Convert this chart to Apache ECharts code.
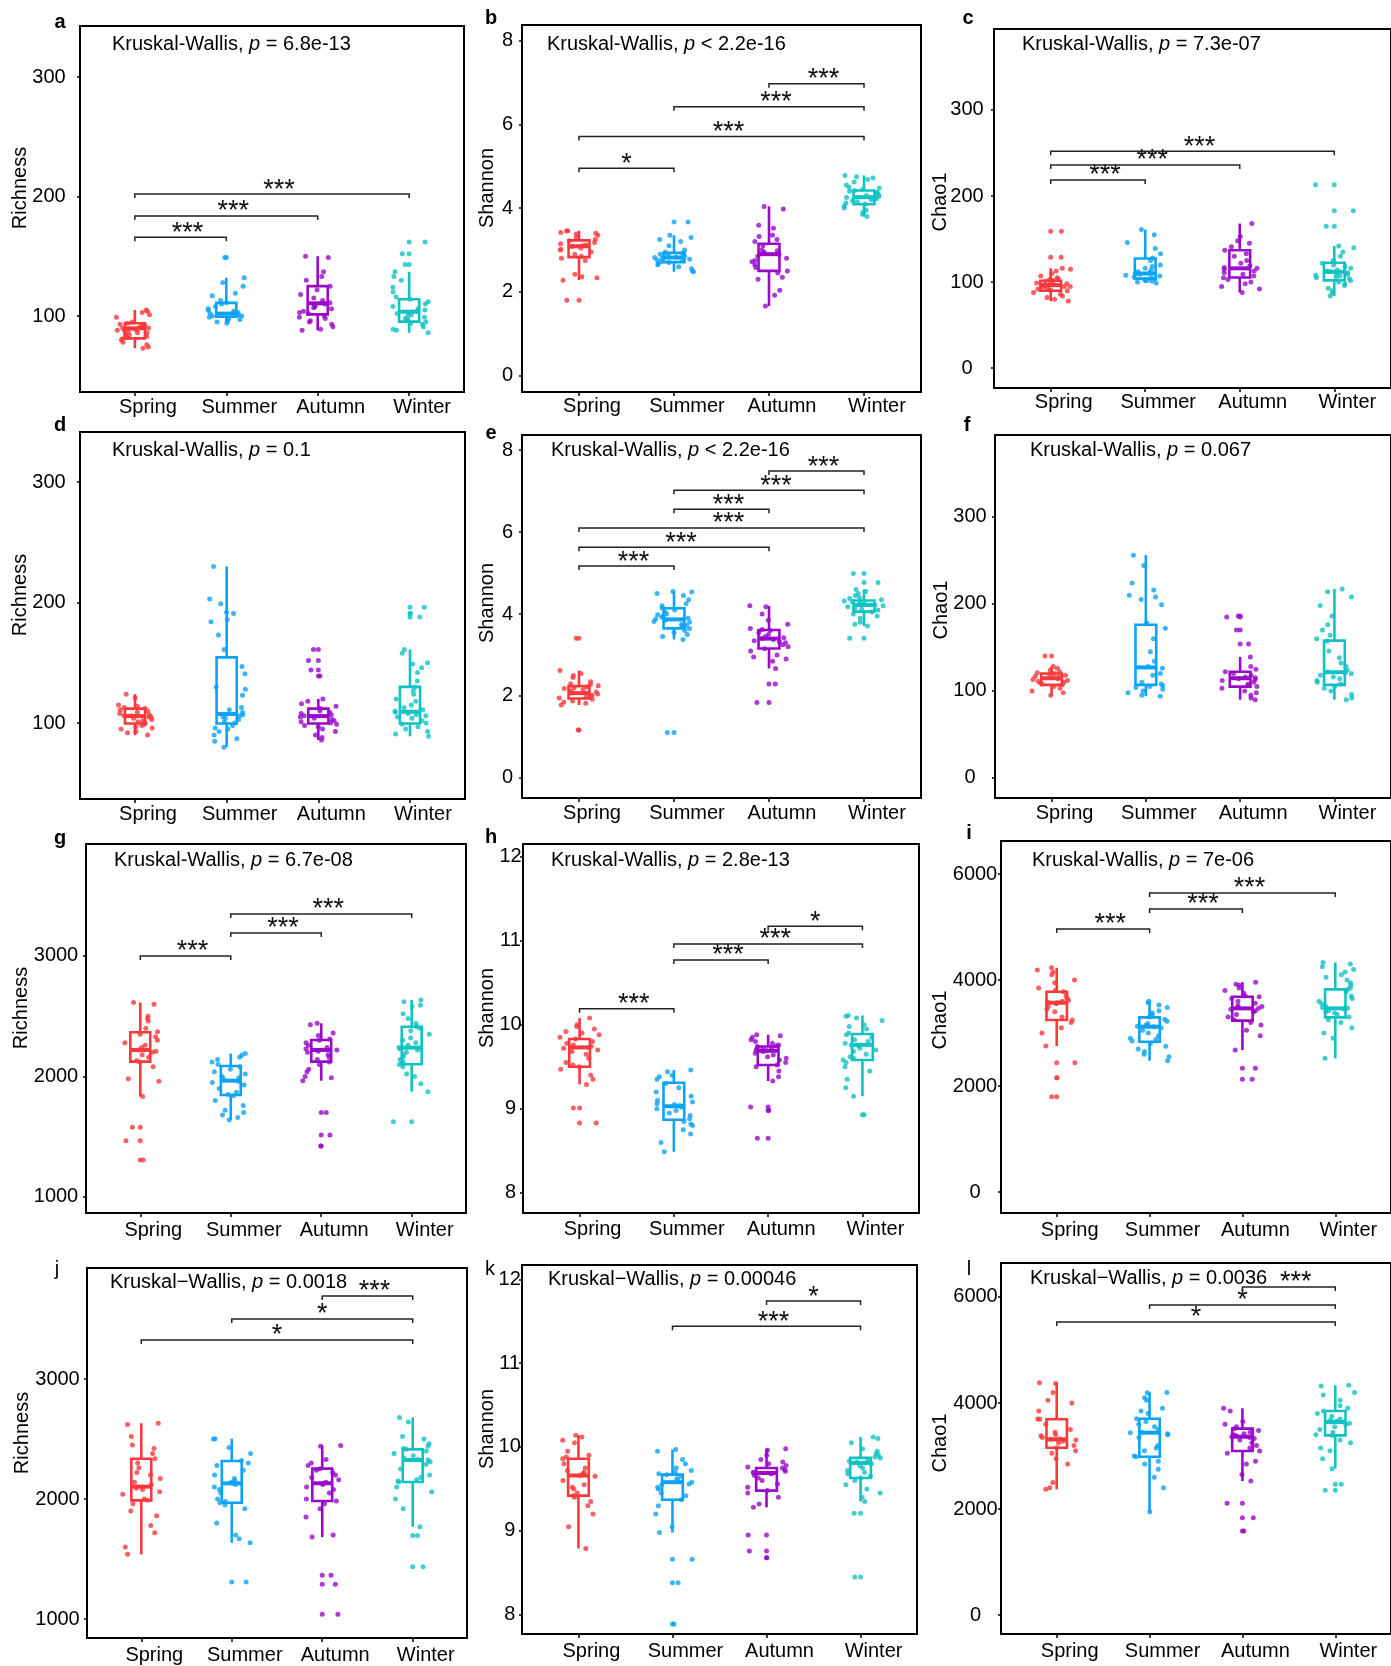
<!DOCTYPE html>
<html><head><meta charset="utf-8">
<script src="https://cdn.jsdelivr.net/npm/echarts@6/dist/echarts.min.js"></script>
<style>html,body{margin:0;padding:0;background:#fff}#c{width:1391px;height:1666px}</style>
</head><body><div id="c"></div>
<script>
// ---------- categories & colours ----------
const seasons = ['Spring', 'Summer', 'Autumn', 'Winter'];
const seasonColors = ['#F8393C', '#0DA2F7', '#9A09C9', '#12C2C2'];

// ---------- tick labels ----------
const ticksRich16S = [100, 200, 300];
const ticksShan16S = [0, 2, 4, 6, 8];
const ticksChao16S = [0, 100, 200, 300];
const ticksRichMeta = [1000, 2000, 3000];
const ticksShanMeta = [8, 9, 10, 11, 12];
const ticksChaoMeta = [0, 2000, 4000, 6000];

// ---------- Kruskal-Wallis p texts ----------
const pTexts = ['= 6.8e-13', '< 2.2e-16', '= 7.3e-07', '= 0.1', '< 2.2e-16', '= 0.067',
                '= 6.7e-08', '= 2.8e-13', '= 7e-06', '= 0.0018', '= 0.00046', '= 0.0036'];

// ---------- panel a (Richness) ----------
const aPts = [
 [105,104,103,101,99,95,94,93,92,92,91,90,90,89,89,88,88,87,86,86,85,84,83,82,81,80,78,76,74,73],
 [149,132,128,125,119,117,113,111,110,108,106,105,104,103,103,102,102,101,100,100,99,98,97,96,95,94],
 [150,149,137,133,130,125,122,118,115,113,111,110,109,108,107,106,104,103,102,100,99,98,96,95,93,91,89,88],
 [162,152,143,137,133,130,124,120,116,114,112,110,108,106,105,104,103,102,101,100,99,98,97,96,95,94,93,91,89,88,86]
];
const aBox = [[73,81.3,89.7,93.9,105],[94,99.4,102,111,132],[88,101.4,110.6,125,150],[86,95.3,103.6,114,137]];
const aSig = [[1,2,166,3],[1,3,183.7,3],[1,4,202,3]];

// ---------- panel b (Shannon) ----------
const bPts = [
 [3.46,3.45,3.42,3.40,3.38,3.35,3.30,3.25,3.22,3.18,3.15,3.12,3.10,3.08,3.05,3.02,3.0,2.95,2.9,2.85,2.8,2.75,2.42,2.36,2.34,2.28,1.80],
 [3.67,3.35,3.30,3.25,3.20,3.10,3.0,2.95,2.92,2.9,2.88,2.85,2.83,2.82,2.8,2.78,2.76,2.75,2.72,2.7,2.68,2.65,2.6,2.55,2.5,2.48],
 [4.04,3.98,3.59,3.52,3.35,3.32,3.25,3.2,3.1,3.0,2.98,2.95,2.9,2.85,2.8,2.75,2.72,2.65,2.58,2.5,2.45,2.35,2.3,2.04,1.92,1.66],
 [4.78,4.75,4.72,4.68,4.62,4.55,4.5,4.48,4.45,4.42,4.4,4.38,4.35,4.32,4.3,4.28,4.26,4.25,4.22,4.2,4.18,4.15,4.12,4.1,4.05,4.0,3.95,3.9,3.85,3.8]
];
const bBox = [[2.28,2.83,3.09,3.23,3.46],[2.48,2.71,2.82,2.93,3.35],[1.66,2.5,2.9,3.15,4.04],[3.8,4.09,4.26,4.42,4.78]];
const bSig = [[1,2,4.95,1],[1,4,5.71,3],[2,4,6.42,3],[3,4,6.97,3]];

// ---------- panel c (Chao1) ----------
const cPts = [
 [159,129,116,115,113,110,107,105,104,103,102,101,100,99,98,97,96,95,95,94,93,92,91,90,88,86,84,82,80,78],
 [161,155,146,139,133,128,125,120,118,116,114,112,111,110,109,108,107,106,105,104,103,102,101,100,99],
 [168,153,148,145,141,137,133,130,125,122,119,117,116,115,113,111,109,107,105,103,100,98,95,92,88],
 [213,183,165,142,140,135,130,125,122,120,118,116,114,113,112,111,110,109,108,107,106,105,104,102,100,98,96,93,90,87,84]
];
const cBox = [[78,90,96.5,101.6,116],[99,104,110,127.5,161],[88,105.4,116,137,168],[84,102,112,122.5,142]];
const cSig = [[1,2,218.6,3],[1,3,236,3],[1,4,252,3]];

// ---------- panel d (Richness) ----------
const dPts = [
 [124,121,115,114,113,112,111,110,109,108,107,106,106,105,105,104,103,102,101,100,100,99,98,97,96,95,93,92,90],
 [230,203,199,192,191,186,184,173,161,147,141,130,128,123,113,111,109,107,106,105,104,103,101,100,98,96,95,93,90,87,85,80],
 [161,152,144,139,120,118,116,114,112,110,109,108,107,106,105,104,103,102,101,100,99,98,97,95,93,90,88,86],
 [196,191,188,161,158,150,149,146,142,135,130,127,124,120,118,115,113,111,110,109,108,107,106,105,104,102,100,99,97,95,93,91,89]
];
const dBox = [[90,99.7,105.8,112,124],[80,99.7,107.5,154.5,230],[86,99.7,105.8,112,120],[89,99.7,109.4,130,161]];
const dSig = [];

// ---------- panel e (Shannon) ----------
const ePts = [
 [3.41,2.62,2.55,2.5,2.45,2.35,2.3,2.28,2.25,2.22,2.2,2.18,2.15,2.12,2.1,2.08,2.07,2.05,2.02,2.0,1.98,1.95,1.92,1.88,1.85,1.82,1.78,1.17],
 [4.55,4.54,4.5,4.45,4.35,4.25,4.2,4.15,4.1,4.05,4.0,3.98,3.95,3.92,3.9,3.88,3.85,3.82,3.8,3.75,3.72,3.7,3.65,3.6,3.55,3.5,3.45,3.38,1.11],
 [4.2,4.18,4.0,3.85,3.75,3.65,3.62,3.6,3.55,3.5,3.45,3.42,3.4,3.38,3.35,3.32,3.3,3.25,3.2,3.15,3.1,3.0,2.95,2.9,2.85,2.67,2.29,1.84],
 [4.99,4.77,4.6,4.55,4.5,4.45,4.4,4.38,4.35,4.32,4.3,4.28,4.25,4.23,4.22,4.2,4.18,4.15,4.12,4.1,4.05,4.0,3.95,3.9,3.8,3.75,3.71,3.41]
];
const eBox = [[1.78,1.94,2.07,2.24,2.62],[3.38,3.65,3.87,4.14,4.55],[2.67,3.16,3.4,3.61,4.2],[3.71,4.06,4.22,4.33,4.6]];
const eSig = [[1,2,5.17,3],[1,3,5.63,3],[1,4,6.10,3],[2,3,6.56,3],[2,4,7.02,3],[3,4,7.49,3]];

// ---------- panel f (Chao1) ----------
const fPts = [
 [140,128,126,124,122,121,120,119,118,117,116,115,114,113,112,111,110,109,108,107,105,103,100,98,95],
 [256,244,224,216,210,208,205,199,178,172,160,145,134,128,126,120,118,110,108,106,105,104,102,100,98,95,94],
 [186,185,170,154,139,128,125,122,120,118,116,115,114,113,112,110,108,106,105,103,100,98,95,92,90],
 [217,214,208,198,186,176,170,164,160,157,146,138,132,128,124,122,121,120,118,116,114,112,110,108,105,103,100,96,92,90]
];
const fBox = [[95,107,114.6,120,128],[94,107,127,176,256],[90,105,114.6,122,139],[90,107,121.5,157.8,217]];
const fSig = [];

// ---------- panel g (Richness) ----------
const gPts = [
 [2613,2600,2500,2480,2460,2400,2370,2350,2330,2300,2280,2260,2240,2220,2210,2200,2180,2160,2130,2120,2080,1980,1960,1833,1578,1467,1307],
 [2190,2178,2160,2140,2120,2100,2080,2060,2040,2020,2000,1990,1980,1970,1960,1950,1930,1900,1870,1850,1840,1800,1760,1720,1700,1680,1660,1640],
 [2441,2430,2360,2340,2310,2300,2280,2260,2240,2230,2220,2210,2200,2180,2160,2140,2120,2100,2060,2040,2000,1990,1965,1700,1515,1423],
 [2635,2620,2590,2580,2520,2480,2440,2413,2400,2380,2350,2320,2300,2280,2260,2240,2230,2220,2200,2180,2160,2140,2120,2100,2080,2020,2000,1940,1874,1625]
];
const gBox = [[1833,2123,2220,2367,2613],[1640,1846,1965,2087,2190],[1965,2123,2220,2303,2441],[1874,2101,2239,2413,2635]];
const gSig = [[1,2,3000,3],[2,3,3191,3],[2,4,3348,3]];

// ---------- panel h (Shannon) ----------
const hPts = [
 [10.08,10.0,9.98,9.95,9.92,9.9,9.88,9.85,9.83,9.8,9.78,9.76,9.74,9.73,9.72,9.7,9.68,9.65,9.6,9.55,9.52,9.5,9.47,9.4,9.35,9.29,9.01,8.83],
 [9.46,9.44,9.4,9.38,9.35,9.3,9.25,9.2,9.15,9.1,9.08,9.06,9.05,9.04,9.03,9.02,9.0,8.98,8.95,8.92,8.88,8.85,8.82,8.8,8.75,8.7,8.6,8.49],
 [9.88,9.87,9.85,9.82,9.8,9.78,9.76,9.75,9.74,9.73,9.72,9.71,9.7,9.69,9.68,9.66,9.64,9.62,9.6,9.58,9.55,9.52,9.5,9.45,9.38,9.33,9.02,8.98,8.65],
 [10.11,10.1,10.08,10.05,10.0,9.98,9.95,9.9,9.88,9.85,9.82,9.8,9.78,9.76,9.75,9.72,9.7,9.68,9.65,9.62,9.6,9.58,9.55,9.5,9.45,9.35,9.25,9.15,8.93]
];
const hBox = [[9.29,9.50,9.73,9.83,10.08],[8.49,8.87,9.03,9.31,9.46],[9.33,9.52,9.69,9.74,9.88],[9.15,9.58,9.76,9.89,10.11]];
const hSig = [[1,2,10.19,3],[2,3,10.77,3],[2,4,10.96,3],[3,4,11.17,1]];

// ---------- panel i (Chao1) ----------
const iPts = [
 [4230,4189,4150,4100,4000,3950,3850,3800,3780,3700,3650,3620,3600,3580,3570,3550,3500,3450,3400,3300,3245,3200,3100,3000,2755,2440,2157,1799],
 [3600,3572,3530,3480,3420,3380,3340,3300,3260,3220,3180,3150,3130,3119,3100,3050,3000,2950,2900,2880,2850,2800,2750,2700,2650,2600,2550,2478],
 [3960,3918,3900,3850,3800,3750,3700,3685,3650,3600,3560,3520,3500,3480,3465,3450,3420,3400,3350,3300,3250,3200,3150,3050,2950,2679,2333,2126],
 [4330,4302,4250,4200,4150,4100,4050,4000,3950,3900,3850,3824,3780,3700,3650,3600,3550,3500,3480,3465,3450,3420,3400,3380,3350,3300,3250,3200,3100,3000,2900,2522]
];
const iBox = [[2755,3245,3572,3780,4230],[2478,2836,3119,3296,3600],[2679,3233,3465,3685,3960],[2522,3296,3465,3824,4330]];
const iSig = [[1,2,4962,3],[2,3,5340,3],[2,4,5642,3]];

// ---------- panel j (Richness) ----------
const jPts = [
 [2631,2620,2520,2450,2420,2380,2336,2300,2260,2220,2200,2170,2140,2120,2100,2090,2080,2060,2040,2000,1989,1960,1900,1860,1780,1720,1600,1539],
 [2503,2500,2430,2380,2320,2300,2280,2240,2200,2170,2150,2140,2131,2120,2100,2080,2050,2000,1980,1969,1950,1920,1800,1700,1670,1636,1308],
 [2447,2440,2330,2300,2280,2253,2240,2220,2200,2180,2160,2140,2131,2120,2100,2080,2050,2000,1983,1960,1920,1850,1700,1683,1364,1289,1039],
 [2680,2642,2520,2500,2460,2440,2420,2414,2400,2380,2360,2340,2330,2325,2310,2290,2250,2200,2180,2160,2150,2142,2100,2060,2000,1920,1769,1697,1436]
];
const jBox = [[1539,1989,2103,2336,2631],[1636,1969,2131,2317,2503],[1683,1983,2131,2253,2447],[1769,2142,2325,2414,2680]];
const jSig = [[1,4,3325,1],[2,4,3500,1],[3,4,3692,3]];

// ---------- panel k (Shannon) ----------
const kPts = [
 [10.14,10.12,10.08,10.05,9.95,9.9,9.88,9.86,9.8,9.75,9.72,9.7,9.68,9.66,9.65,9.6,9.55,9.52,9.5,9.45,9.42,9.4,9.35,9.3,9.2,9.05,8.79],
 [9.97,9.95,9.85,9.8,9.75,9.72,9.7,9.68,9.67,9.65,9.62,9.6,9.58,9.56,9.55,9.52,9.5,9.45,9.42,9.37,9.3,9.2,9.05,8.98,8.66,8.38,7.89],
 [9.98,9.96,9.9,9.85,9.82,9.8,9.78,9.76,9.75,9.73,9.71,9.7,9.69,9.68,9.66,9.63,9.6,9.56,9.52,9.48,9.45,9.4,9.32,9.28,8.95,8.76,8.68],
 [10.12,10.1,10.05,9.98,9.95,9.92,9.9,9.88,9.87,9.85,9.83,9.82,9.81,9.8,9.78,9.75,9.72,9.7,9.68,9.65,9.63,9.6,9.55,9.5,9.45,9.4,9.35,9.21,8.45]
];
const kBox = [[8.79,9.42,9.66,9.86,10.14],[8.98,9.37,9.58,9.67,9.97],[9.28,9.48,9.69,9.75,9.98],[9.35,9.63,9.81,9.87,10.12]];
const kSig = [[2,4,11.44,3],[3,4,11.74,1]];

// ---------- panel l (Chao1) ----------
const lPts = [
 [4384,4370,4200,4050,4000,3850,3700,3692,3600,3500,3450,3400,3380,3350,3320,3314,3300,3280,3250,3200,3157,3100,3050,2950,2850,2500,2400,2371],
 [4200,4195,4100,4050,3900,3850,3800,3704,3650,3600,3550,3500,3450,3440,3420,3400,3350,3200,3150,3100,3000,2987,2900,2850,2750,2600,2400,1950],
 [3900,3849,3650,3600,3550,3516,3480,3450,3420,3400,3380,3365,3350,3330,3300,3250,3200,3150,3094,3050,2900,2850,2650,2528,2107,1836,1585],
 [4333,4320,4200,4150,4050,3950,3900,3849,3800,3750,3700,3680,3660,3642,3620,3600,3550,3500,3450,3400,3390,3300,3250,3150,3100,2950,2761,2465,2352]
];
const lBox = [[2371,3157,3314,3692,4384],[1950,2987,3440,3704,4200],[2528,3094,3365,3516,3900],[2761,3390,3642,3849,4333]];
const lSig = [[1,4,5528,1],[2,4,5849,1],[3,4,6189,3]];

// ---------- assembly ----------
const FONT = '"Liberation Sans", Arial, Helvetica, sans-serif';
const panels = [
 {id:'a', pts:aPts, box:aBox, sig:aSig, name:'Richness', ticks:ticksRich16S, kw:'Kruskal-Wallis'},
 {id:'b', pts:bPts, box:bBox, sig:bSig, name:'Shannon',  ticks:ticksShan16S, kw:'Kruskal-Wallis'},
 {id:'c', pts:cPts, box:cBox, sig:cSig, name:'Chao1',    ticks:ticksChao16S, kw:'Kruskal-Wallis'},
 {id:'d', pts:dPts, box:dBox, sig:dSig, name:'Richness', ticks:ticksRich16S, kw:'Kruskal-Wallis'},
 {id:'e', pts:ePts, box:eBox, sig:eSig, name:'Shannon',  ticks:ticksShan16S, kw:'Kruskal-Wallis'},
 {id:'f', pts:fPts, box:fBox, sig:fSig, name:'Chao1',    ticks:ticksChao16S, kw:'Kruskal-Wallis'},
 {id:'g', pts:gPts, box:gBox, sig:gSig, name:'Richness', ticks:ticksRichMeta, kw:'Kruskal-Wallis'},
 {id:'h', pts:hPts, box:hBox, sig:hSig, name:'Shannon',  ticks:ticksShanMeta, kw:'Kruskal-Wallis'},
 {id:'i', pts:iPts, box:iBox, sig:iSig, name:'Chao1',    ticks:ticksChaoMeta, kw:'Kruskal-Wallis'},
 {id:'j', pts:jPts, box:jBox, sig:jSig, name:'Richness', ticks:ticksRichMeta, kw:'Kruskal\u2212Wallis'},
 {id:'k', pts:kPts, box:kBox, sig:kSig, name:'Shannon',  ticks:ticksShanMeta, kw:'Kruskal\u2212Wallis'},
 {id:'l', pts:lPts, box:lBox, sig:lSig, name:'Chao1',    ticks:ticksChaoMeta, kw:'Kruskal\u2212Wallis'}
];

// layout (pixel geometry of each panel)
const layout = {
 a:{L:80, T:26, R:464, B:392, ymin:36.4, ymax:342.7, lc:49,   nx:20,  ny:188, lx:60,  ly:22,  bold:true,  tx:112, ty:44,  xm:5},
 b:{L:522,T:25, R:921, B:392, ymin:-0.39,ymax:8.37,  lc:507.5,nx:487, ny:188, lx:491, ly:18,  bold:true,  tx:547, ty:44,  xm:4},
 c:{L:994,T:29, R:1397,B:388, ymin:-23,  ymax:394,   lc:967,  nx:940, ny:202, lx:968, ly:18,  bold:true,  tx:1022,ty:44,  xm:4},
 d:{L:80, T:432,R:465, B:799, ymin:37,   ymax:341.5, lc:49,   nx:20,  ny:595, lx:60,  ly:425, bold:true,  tx:112, ty:450, xm:5},
 e:{L:522,T:435,R:921, B:798, ymin:-0.49,ymax:8.37,  lc:507.5,nx:487, ny:603, lx:491, ly:433, bold:true,  tx:551, ty:450, xm:5},
 f:{L:995,T:435,R:1397,B:798, ymin:-23,  ymax:394,   lc:970,  nx:941, ny:610, lx:967, ly:425, bold:true,  tx:1030,ty:450, xm:5},
 g:{L:86, T:844,R:466, B:1213,ymin:867,  ymax:3929,  lc:56,   nx:21,  ny:1008,lx:60,  ly:838, bold:true,  tx:114, ty:860, xm:7},
 h:{L:523,T:844,R:919, B:1213,ymin:7.76, ymax:12.15, lc:510.5,nx:487, ny:1008,lx:491, ly:837, bold:true,  tx:551, ty:860, xm:6},
 i:{L:1001,T:841,R:1397,B:1213,ymin:-396,ymax:6623,  lc:975,  nx:940, ny:1020,lx:969, ly:833, bold:true,  tx:1032,ty:860, xm:7},
 j:{L:87, T:1268,R:467,B:1638,ymin:842,  ymax:3925,  lc:57.5, nx:22,  ny:1433,lx:57,  ly:1269,bold:false, tx:110, ty:1282,xm:7},
 k:{L:522,T:1265,R:917,B:1634,ymin:7.77, ymax:12.17, lc:509.7,nx:487, ny:1429,lx:490, ly:1269,bold:false, tx:548, ty:1279,xm:7},
 l:{L:1001,T:1263,R:1397,B:1634,ymin:-358,ymax:6641, lc:975.5,nx:940, ny:1443,lx:969, ly:1269,bold:false, tx:1030,ty:1278,xm:7}
};

function mulberry32(a){return function(){a|=0;a=a+0x6D2B79F5|0;let t=Math.imul(a^a>>>15,1|a);t=t+Math.imul(t^t>>>7,61|t)^t;return((t^t>>>14)>>>0)/4294967296;};}

function boxRender(boxes){
  return function(params, api){
    const i = params.dataIndex, b = boxes[i], x = i + 1, hw = 0.11, c = seasonColors[i];
    const lo = api.coord([x,b[0]]), q1 = api.coord([x,b[1]]), md = api.coord([x,b[2]]), q3 = api.coord([x,b[3]]), hi = api.coord([x,b[4]]);
    const xl = api.coord([x-hw,b[2]])[0], xr = api.coord([x+hw,b[2]])[0];
    return {type:'group', children:[
      {type:'line', shape:{x1:lo[0],y1:lo[1],x2:q1[0],y2:q1[1]}, style:{stroke:c,lineWidth:2.6}},
      {type:'line', shape:{x1:q3[0],y1:q3[1],x2:hi[0],y2:hi[1]}, style:{stroke:c,lineWidth:2.6}},
      {type:'rect', shape:{x:xl,y:q3[1],width:xr-xl,height:q1[1]-q3[1]}, style:{stroke:c,fill:'none',lineWidth:2.6}},
      {type:'line', shape:{x1:xl,y1:md[1],x2:xr,y2:md[1]}, style:{stroke:c,lineWidth:4}}
    ]};
  };
}
function sigRender(sigs){
  return function(params, api){
    const s = sigs[params.dataIndex];
    const p1 = api.coord([s[0], s[2]]), p2 = api.coord([s[1], s[2]]);
    const drop = 4, stars = s[3] === 3 ? '***' : '*';
    return {type:'group', children:[
      {type:'polyline', shape:{points:[[p1[0],p1[1]+drop],[p1[0],p1[1]],[p2[0],p2[1]],[p2[0],p2[1]+drop]]},
        style:{stroke:'#222',lineWidth:1.5,fill:'none'}},
      {type:'text', x:(p1[0]+p2[0])/2 + (s[3]===3?7:0), y:p1[1]-4,
        style:{text:stars, fontSize:27, fontFamily:FONT, fill:'#111', align:'center', verticalAlign:'middle'}}
    ]};
  };
}

const grids=[], xAxes=[], yAxes=[], series=[], graphics=[];
panels.forEach((P, k) => {
  const L = layout[P.id];
  grids.push({left:L.L, top:L.T, width:L.R-L.L, height:L.B-L.T, show:true, borderColor:'#000', borderWidth:2, backgroundColor:'transparent'});
  xAxes.push({type:'value', gridIndex:k, min:0.4, max:4.6, splitLine:{show:false},
    axisLine:{show:false, onZero:false},
    axisTick:{show:true, customValues:[1,2,3,4], length:4, lineStyle:{color:'#000', width:1.5}},
    axisLabel:{customValues:[1,2,3,4], formatter:v=>seasons[Math.round(v)-1], fontSize:20, color:'#000',
      fontFamily:FONT, margin:L.xm, padding:[0,0,0,26]}});
  yAxes.push({type:'value', gridIndex:k, min:L.ymin, max:L.ymax, splitLine:{show:false},
    axisLine:{show:false, onZero:false},
    axisTick:{show:true, customValues:P.ticks, length:3, lineStyle:{color:'#000', width:1.5}},
    axisLabel:{customValues:P.ticks, formatter:v=>String(v), fontSize:20, color:'#000', fontFamily:FONT,
      margin:L.L-L.lc, align:'center'}});

  series.push({type:'custom', xAxisIndex:k, yAxisIndex:k, renderItem:boxRender(P.box), clip:false, silent:true, z:2,
    data:P.box.map((b,i)=>[i+1,b[2]])});

  const rnd = mulberry32(1000 + k*17);
  const pts = [];
  P.pts.forEach((arr, g) => {
    const bx = P.box[g];
    arr.forEach(v => {
      pts.push({value:[g+1 + (rnd()-0.5)*0.42, v], itemStyle:{color:seasonColors[g]}});
      if (v < bx[0]-1e-9 || v > bx[4]+1e-9) pts.push({value:[g+1, v], itemStyle:{color:seasonColors[g]}});
    });
  });
  series.push({type:'scatter', xAxisIndex:k, yAxisIndex:k, symbolSize:5, silent:true, z:3, data:pts});

  if (P.sig.length) series.push({type:'custom', xAxisIndex:k, yAxisIndex:k, renderItem:sigRender(P.sig), clip:false, silent:true, z:4,
    data:P.sig.map(s=>[s[0], s[2]])});

  graphics.push({type:'text', x:L.lx, y:L.ly, style:{text:P.id, fontSize:20, fontWeight:L.bold?'bold':'normal',
    fontFamily:FONT, fill:'#000', align:'center', verticalAlign:'middle'}});
  graphics.push({type:'text', x:L.nx, y:L.ny, rotation:Math.PI/2, style:{text:P.name, fontSize:20,
    fontFamily:FONT, fill:'#000', align:'center', verticalAlign:'middle'}});
  graphics.push({type:'text', x:L.tx, y:L.ty, style:{
    text:'{n|' + P.kw + ', }{i|p}{n| ' + pTexts[k] + '}',
    rich:{n:{fontSize:20, fontFamily:FONT, fill:'#000'}, i:{fontSize:20, fontFamily:FONT, fontStyle:'italic', fill:'#000'}},
    fontSize:20, fontFamily:FONT, fill:'#000', align:'left', verticalAlign:'middle'}});
});

const chart = echarts.init(document.getElementById('c'), null, {renderer:'canvas'});
chart.setOption({
  animation:false, backgroundColor:'#fff',
  textStyle:{fontFamily:FONT},
  grid:grids, xAxis:xAxes, yAxis:yAxes, series:series, graphic:graphics
});
</script></body></html>
